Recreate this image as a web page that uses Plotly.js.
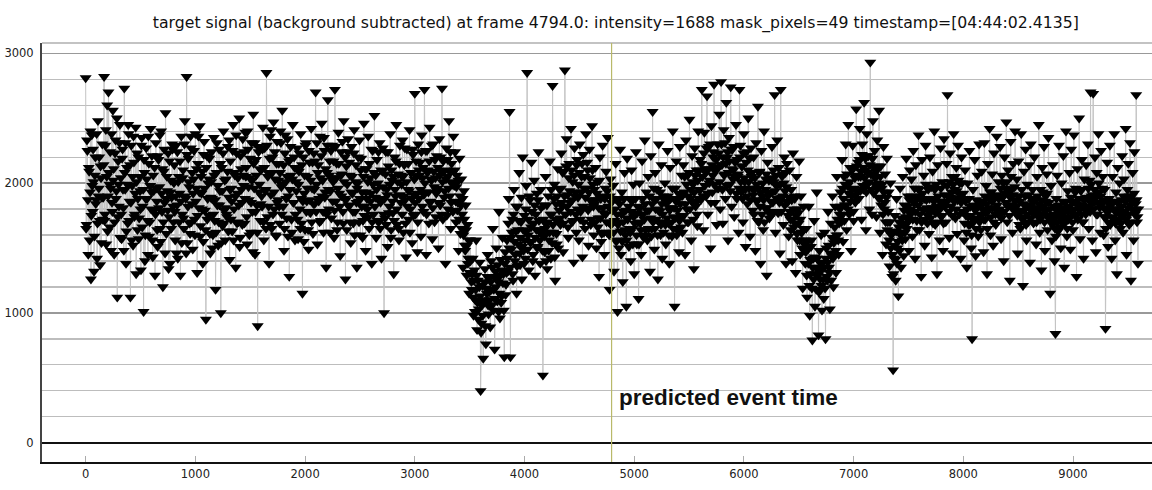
<!DOCTYPE html>
<html>
<head>
<meta charset="utf-8">
<script src="https://cdn.plot.ly/plotly-3.0.1.min.js"></script>
<style>
html,body{margin:0;padding:0;background:#fff;}
#chart{width:1152px;height:490px;}
</style>
</head>
<body>
<div id="chart"></div>
<script>
// Chart text
const titleText = "target signal (background subtracted) at frame 4794.0: intensity=1688 mask_pixels=49 timestamp=[04:44:02.4135]";
const eventLabel = "predicted event time";
const eventFrame = 4794;

// Tick labels
const xTicks = [0,1000,2000,3000,4000,5000,6000,7000,8000,9000];
const yTicks = [0,1000,2000,3000];

// Intensity samples.
// samplesA: frames 0, 8, 16, ...   samplesB: frames 4, 12, 20, ...
const frameStep = 8;
const samplesA = [
2810,1680,2250,1450,2090,1930,1260,2370,1780,2010,1590,2200,1870,1420,2480,1960,1710,2130,1540,2300,
1890,2820,1760,2410,2050,1630,2700,1990,2240,1480,1850,2560,2110,1700,2330,1940,1120,2170,1820,2450,
2040,1570,2260,1810,2730,1950,1380,2120,1690,2380,1860,1120,2290,1980,1520,2160,1760,2430,2010,1640,
2200,1730,1940,1330,2350,1820,1010,2080,1600,2270,1880,1450,2150,1700,2420,1930,1560,2060,1790,1290,
2310,1860,1510,2180,1970,1650,2400,1780,1200,2090,1850,2540,1610,1940,2230,1740,1380,2020,1890,2260,
1700,2140,1560,2290,1830,1420,2050,1920,1290,2360,1760,2100,1650,2480,1880,2820,1540,2190,1970,1610,
2270,1840,1490,2030,1720,2380,1960,1310,2150,1810,2440,1670,1920,2090,1550,2320,1790,950,2210,1880,
1750,2190,1460,2010,1880,1600,2350,1710,1180,2080,1830,1520,2260,1940,1000,2120,1670,2400,1790,1560,
2030,1740,2280,1890,1410,2170,1960,1630,2450,1800,2060,1350,2230,1920,1700,2500,1580,2110,1850,2340,
1980,1690,2390,2120,1530,2260,1870,2040,1620,2310,1780,2530,1960,1450,2180,1830,900,2240,1990,1710,
2100,1820,2430,1560,2270,1950,2850,1740,2080,1380,2360,1910,1650,2200,2470,1800,2030,1590,2320,1870,
2150,1690,2400,1970,2560,1820,1480,2230,2010,1730,2340,1900,1280,2180,2060,1620,2450,1850,2120,1760,
1940,2270,1570,2090,1800,2380,1690,1150,2200,1920,1640,2310,1860,2050,1490,2160,1770,2420,1960,1610,
2230,1840,2700,1990,1530,2140,1880,2360,1710,2460,2020,1620,2250,1930,1350,2080,2640,1800,2170,1940,
1730,2290,2010,1580,2720,1860,2150,1700,2390,1920,1440,2240,2070,1780,2480,1880,1260,2130,1990,2340,
1820,2060,1540,2280,1920,1690,2410,1780,2140,1350,2000,1860,2330,1600,2190,1930,1710,2460,1820,1480,
2110,1800,2360,1650,2040,1920,1380,2250,1760,2520,1890,1580,2180,2000,1700,2310,1850,1420,2090,1970,
1000,1730,2240,1950,1510,2130,1820,2380,1640,2020,1770,1300,2200,1900,2450,1680,2070,1560,2290,1850,
1990,2330,1620,2140,1870,1430,2260,1950,1720,2410,1800,2080,1540,2220,1910,2690,1760,2050,1470,2300,
1880,2160,1590,2370,2040,1780,2720,1930,1450,2250,2100,1690,2430,1860,2020,1570,2300,1970,2180,1740,
2210,1960,1500,2340,1830,2090,2730,1720,2180,1940,1380,2270,2050,1800,2480,1900,1650,2150,1990,2360,
1980,2240,1700,2060,1850,1480,2190,1610,2030,1760,1350,1940,1520,1830,1290,1680,1420,1150,1560,1310,
1180,1420,980,1330,1100,1560,870,1250,1030,1390,400,920,1210,650,1080,1340,760,1150,1450,990,
1270,890,1400,1060,1650,1180,720,1320,1500,1090,1240,1780,960,1410,1130,1580,1300,660,1470,1220,
1560,1320,1880,2550,660,1490,1720,1250,1950,1400,1630,1150,1820,1530,2080,1370,1700,1260,2200,1480,
1750,1420,1980,2850,1600,1330,1870,1540,2160,1690,1450,2020,1290,1760,1920,1510,2240,1640,1380,1810,
1600,520,1830,1470,2050,1680,1340,1900,1560,2170,1420,1760,2750,1620,1990,1250,1840,1530,2110,1700,
1950,1680,2230,1820,1470,2090,2870,1760,2340,1910,1580,2150,1850,2420,1700,2010,1390,2270,1930,1620,
2180,1890,1560,2300,1780,2050,1430,2220,1960,1650,2380,1810,2100,1520,2260,1870,1720,2440,1990,1600,
1840,2120,1500,2010,1730,1280,2200,1880,1610,2290,1770,1450,1960,2090,1620,2350,1700,1180,2030,1850,
1690,1980,1320,1800,2150,1560,1010,1870,1700,2260,1450,1930,1240,1780,2080,1600,1050,2190,1730,1510,
1880,1400,2100,1650,1990,1300,1760,2240,1530,1820,1110,2000,1690,1450,2170,1760,1580,2330,1640,1930,
1560,2050,1790,1320,2210,1650,2550,1880,1490,2080,1720,1950,1260,2300,1780,1600,2140,1420,1900,1700,
2000,1530,1850,2250,1690,1380,2120,1810,1590,2400,1740,1050,1960,2170,1640,1880,1470,2280,1750,2060,
1620,2140,1930,1450,2330,1800,2060,1700,2490,1880,1560,2210,1990,1340,2270,1820,2100,1670,2400,1950,
2180,1870,2720,2050,1640,2390,2110,1900,2670,1760,2280,2020,1500,2440,1930,2200,2760,1850,2120,1680,
2300,1960,2530,1800,2780,2140,1690,2410,2070,1880,2620,2200,1560,2350,1990,2740,1820,2260,2100,1740,
2160,2450,1880,2050,1620,2720,2290,1930,2130,1700,2380,2010,1510,2240,1840,2500,1960,1590,2270,2080,
1790,2200,1950,1480,2310,1860,2590,1700,2090,1380,2250,1900,1640,2400,1810,2030,1290,2160,1920,1730,
2040,1750,2280,1850,2010,2680,1620,1980,2330,1770,2120,1460,2720,1890,2070,1680,2200,1940,1380,2150,
1860,1590,2100,1720,1950,1400,2230,1660,1880,1310,2050,1560,1770,2170,1450,1900,1620,1190,1820,1530,
1380,1650,1120,1490,1820,980,1300,1560,790,1420,1710,1050,1350,1930,1180,830,1480,1260,1600,1020,
1390,1110,1620,800,1500,1250,1780,1350,1030,1690,1440,1900,1200,1570,1820,1310,2050,1600,1450,1760,
1930,1700,2180,1550,2050,1830,2300,1640,1980,2450,1760,2120,1480,1900,2290,1710,2060,1850,2570,1940,
2160,1880,2420,2050,1720,2300,1950,2620,2100,1640,2380,1990,2210,1800,2930,2070,1760,2480,1920,2250,
2040,1740,2330,1890,2560,1620,2130,1960,1450,2280,1800,2070,1530,2190,1700,1930,1360,2000,1600,1280,
560,1420,1750,1250,1880,1500,1130,1700,1960,1350,1620,2050,1440,1830,1570,2190,1690,1900,1480,2100,
1760,2030,1590,2250,1850,1420,2140,1710,1960,2370,1640,1900,1280,2180,1800,2060,1520,2290,1870,1690,
1950,1610,2200,1780,1430,2090,1880,2400,1680,1990,1300,2140,1820,1560,2270,1740,2010,1480,2340,1860,
1700,2150,2680,1900,1580,2230,1820,2050,1460,2380,1950,1730,2120,1610,2290,1880,2000,1420,2200,1780,
1920,1560,2100,1750,1350,2000,1680,2250,1820,1500,800,1950,1710,2180,1440,1870,2060,1590,2300,1760,
1640,2090,1850,1470,2310,1720,1980,1300,2150,1790,2420,1600,1930,2070,1520,2230,1810,1680,2360,1900,
2010,1750,2280,1570,2060,1890,1400,2200,1960,2470,1700,2100,1830,1250,2320,1950,1620,2150,1870,2400,
1780,2030,1460,2170,1900,1650,2380,1740,1210,2090,1830,2260,1560,1990,1700,2140,1390,2300,1810,1950,
1690,2200,1870,1530,2050,1760,2450,1620,1950,1330,2120,1800,2280,1480,1900,2070,1640,2350,1750,1150,
1980,1560,2140,1720,1400,840,1880,2060,1630,2290,1770,1500,2000,1690,2210,1350,1850,2400,1590,1940,
1720,2080,1490,2260,1850,1640,2370,1760,1960,1280,2110,1820,2500,1570,1940,2180,1700,1420,2030,1880,
2140,1800,2300,1650,2020,2700,1900,1560,2690,1850,2200,1470,2080,1760,2380,1930,1620,2250,1840,2050,
1600,1950,880,1740,2160,1510,1880,2290,1690,1420,2050,1800,2380,1560,1930,1300,2120,1710,2000,1650,
1870,2210,1620,2030,1760,2420,1450,1950,2150,1680,2310,1250,1900,2080,1560,2240,1800,2680,1700,1380
];
const samplesB = [
1650,2330,1870,2120,1560,2400,1750,1980,2260,1320,2060,1840,2380,1690,1900,2200,1370,2040,1890,1720,
2140,1710,2290,1530,2600,1900,2080,1660,1960,2380,1780,2020,1450,2230,1880,2500,1740,1990,2310,1580,
1760,2190,1950,1480,2080,2310,1630,1990,2450,1710,2140,1850,1560,2050,2360,1740,1920,1300,2230,1880,
1570,2050,1800,2290,1660,1950,2180,1400,1880,2030,1710,2360,1590,1980,1800,2210,1430,1940,2120,1760,
1960,1640,2210,1810,2370,1550,1920,2110,1700,2260,1460,1880,2050,1790,1340,2170,1930,1650,2300,1820,
2000,1780,1900,1460,2240,2010,1700,2170,1860,1540,2040,1730,2300,1900,1460,2220,1820,2010,1690,2360,
1700,2080,1920,2250,1600,1860,2110,1750,2360,1930,1590,2050,1800,1380,2220,1960,1640,2120,1720,2000,
2030,1610,1890,2240,1500,1760,2060,1870,1620,2310,1980,1700,1830,2150,1540,1940,2230,1690,2020,1810,
1760,2090,1630,2330,1950,1720,1860,2250,1560,2080,1900,2370,1690,2040,1830,1510,2210,1950,1680,2060,
2240,1880,2050,1740,2400,1970,1600,2190,1850,2020,1470,2150,2310,1780,2060,1620,2280,1930,2110,1840,
1900,2260,1700,2120,1940,1650,2290,2050,1820,2190,1680,2410,2080,1760,1930,2240,1600,2150,1850,2020,
1820,2080,2310,1760,1990,2140,1650,2370,1880,2050,1590,2170,1950,2280,1720,2030,1850,2200,1560,2010,
2110,1720,1990,2230,1650,1880,2140,1860,1550,2060,2290,1780,1960,1640,2250,1870,2020,1700,2160,1840,
1950,2170,1780,2310,2080,1860,1700,2040,2210,1900,1780,2350,1890,2110,1760,2290,1950,2060,1620,2250,
2040,1860,2170,1790,2280,2040,1640,1960,2150,1820,2060,1900,2320,1690,2010,2200,1870,1640,2240,1830,
2160,1700,1930,2050,1780,2230,1600,2010,1850,1960,2200,1700,1880,2100,1820,1580,2050,1750,2110,1930,
1880,2010,1740,2150,1860,2260,1700,1990,2080,1820,2060,1950,1710,2240,1880,1650,2100,1870,2270,1760,
1880,2070,1680,1910,2240,1770,1990,1580,2100,1860,2050,1710,1950,2170,1800,2010,1650,2150,1910,2060,
1760,2050,1900,2270,1690,2010,1820,2150,1940,1620,2080,1880,2260,1750,2030,1850,2170,1920,1700,2100,
2060,1950,2240,1820,2120,1910,2000,2250,1760,2080,1930,2170,1850,2030,2290,1810,2090,1700,2040,1920,
1940,2120,1850,2060,2200,1760,2010,2170,1890,2100,2030,1750,2180,1960,2090,2240,1850,2010,1780,2090,
2100,1860,1970,1790,2020,1720,1900,1830,1650,1880,1600,1720,1480,1640,1520,1380,1560,1310,1400,1240,
1300,1120,1250,1010,1180,1290,1080,950,1200,1130,850,1060,980,1100,1240,900,1190,1280,1060,1160,
1100,1240,1180,1350,1020,1280,1110,1200,1260,1370,1010,1150,1290,1080,1330,1230,1020,1380,1140,1310,
1420,1690,1500,1350,1580,1620,1300,1760,1550,1450,1820,1360,1640,1710,1460,1580,1890,1510,1640,1380,
1560,1800,1630,1490,1720,1900,1550,1660,1780,1400,1690,1830,1580,1640,1500,1870,1710,1560,1950,1620,
1480,1720,1590,1650,1400,1830,1700,1480,1620,1760,1950,1540,1680,1880,1430,1720,1610,1900,1500,1790,
1730,1960,1850,2080,1690,1900,1760,2130,1820,1660,2040,1940,1780,2100,1870,1710,2060,1900,1760,2140,
1800,1990,2080,1720,1930,2150,1820,1700,2050,1890,1960,2160,1790,1930,2040,1680,1860,2100,1820,1950,
1700,1870,1920,1660,1810,2020,1730,1550,1900,1810,1620,1880,1760,1700,1940,1820,1600,1900,1680,1790,
1790,1620,1710,1880,1550,1760,1680,1500,1840,1630,1760,1550,1700,1880,1640,1790,1560,1720,1820,1650,
1620,1780,1860,1530,1740,1690,1880,1600,1770,1700,1530,1810,1640,1760,1880,1590,1720,1840,1600,1790,
1790,1650,1900,1730,1590,1840,1700,1960,1650,1800,1880,1600,1790,1700,1930,1680,1840,1760,1620,1870,
1680,1840,1730,1900,1600,1790,1880,1700,1960,1650,1810,1730,1860,1600,1790,1920,1710,1840,1660,1900,
1910,1750,2050,1840,1990,1700,1900,2080,1800,1950,1860,2010,1720,1930,2060,1850,1760,2020,1880,2100,
1950,2150,2050,1900,2230,1980,2080,2270,1920,2110,2000,2300,1850,2140,2060,2240,1990,2090,2180,1960,
2120,2230,2010,2140,2300,1950,2200,2060,2310,2150,1980,2240,2080,2170,1940,2260,2110,2030,2280,2050,
2050,1920,2180,2070,1960,2200,2010,2130,1880,2230,2040,1950,2160,1900,2100,2010,2190,1870,2050,1960,
1910,1760,2040,1870,1990,1710,1960,2080,1820,1930,1760,2000,1870,1700,1950,2070,1810,1900,2020,1780,
1860,2020,1930,2100,1780,1940,2060,1880,1990,2120,1850,1990,1780,2050,1900,2000,1830,2080,1970,1850,
1750,1890,1780,1640,1870,1720,1800,1900,1690,1750,1610,1800,1690,1560,1720,1620,1500,1650,1480,1560,
1470,1290,1550,1380,1210,1410,1510,1190,1350,1260,1430,1300,1180,1420,1290,1160,1320,1380,1210,1340,
1260,1350,1190,1420,1280,1390,1520,1310,1460,1250,1580,1420,1540,1660,1480,1600,1720,1560,1690,1800,
1820,1750,1960,1880,1710,1990,1830,2070,1800,1920,2010,1860,1950,2100,1780,1960,2040,1910,2130,1880,
2050,2180,1940,2090,2220,1980,2120,2040,2190,1930,2080,2210,2010,2140,2070,1950,2190,2060,2120,1990,
2090,1960,2130,2000,1880,2050,1830,1990,1760,1930,1850,1700,1890,1640,1780,1560,1700,1500,1620,1450,
1300,1520,1410,1630,1380,1550,1660,1480,1600,1730,1560,1680,1790,1620,1740,1650,1820,1720,1870,1780,
1800,1900,1720,1850,1960,1780,1880,1640,1830,1950,1760,1870,1700,1920,1790,1880,1720,1990,1810,1750,
1780,1880,1730,1970,1810,1690,1860,1950,1770,1820,1700,1900,1790,1860,1960,1750,1830,1690,1910,1820,
1850,1980,1900,1780,2010,1890,1930,1750,1990,1860,2050,1800,1940,1870,2020,1760,1910,1850,2000,1880,
1780,1690,1860,1620,1800,1740,1880,1680,1750,1600,1690,1830,1720,1790,1650,1810,1730,1860,1700,1820,
1750,1860,1800,1720,1900,1770,1840,1650,1890,1800,1930,1740,1860,1810,1700,1880,1760,1910,1830,1780,
1880,1800,1960,1730,1900,2000,1780,1920,1850,2010,1820,1940,1750,1890,2050,1830,1910,1790,1970,1860,
1820,1750,1900,1680,1860,1780,1950,1720,1840,1790,1900,1680,1830,1760,1910,1810,1730,1880,1780,1850,
1760,1880,1810,1700,1900,1790,1840,1720,1870,1760,1930,1820,1700,1860,1790,1920,1740,1850,1800,1710,
1740,1680,1820,1760,1650,1590,1790,1700,1830,1740,1660,1800,1710,1860,1770,1690,1810,1730,1650,1780,
1820,1740,1890,1780,1700,1860,1800,1930,1750,1840,1720,1880,1790,1950,1760,1830,1700,1870,1800,1760,
1890,1820,1960,1870,1780,1990,1840,1910,1800,1950,1880,1760,1930,1850,2000,1810,1900,1840,1960,1870,
1740,1810,1650,1780,1850,1700,1790,1680,1830,1740,1860,1720,1800,1690,1770,1850,1710,1800,1760,1690,
1820,1750,1900,1780,1860,1720,1880,1810,1760,1900,1830,1700,1850,1790,1920,1760,1840,1870,1740,1800
];

// Interleave the two sample sets into one time-ordered series
const frames = [];
const intensity = [];
samplesA.forEach((v, i) => {
  frames.push(i * frameStep); intensity.push(v);
  if (i < samplesB.length) { frames.push(i * frameStep + frameStep / 2); intensity.push(samplesB[i]); }
});

const trace = {
  type: 'scatter',
  mode: 'lines+markers',
  x: frames,
  y: intensity,
  line: {color: '#c4c4c4', width: 1},
  marker: {symbol: 'triangle-down', size: 10.5, color: '#000', line: {width: 0}},
  hoverinfo: 'x+y',
  showlegend: false
};

const layout = {
  width: 1152,
  height: 490,
  margin: {l: 42, r: 0, t: 43, b: 28, pad: 0},
  paper_bgcolor: '#fff',
  plot_bgcolor: '#fff',
  showlegend: false,
  title: {
    text: titleText,
    font: {family: 'DejaVu Sans', size: 15.7, color: '#111'},
    x: 0.517, xanchor: 'center', xref: 'paper',
    y: 0.955, yanchor: 'middle', yref: 'container'
  },
  xaxis: {
    range: [-398, 9720],
    tickvals: xTicks,
    ticktext: xTicks.map(String),
    ticks: 'inside', ticklen: 6, tickcolor: '#aaa', tickwidth: 1,
    showgrid: false, zeroline: false,
    showline: true, linecolor: '#111', linewidth: 2,
    tickfont: {family: 'DejaVu Sans', size: 11.5, color: '#222'},
    fixedrange: true
  },
  yaxis: {
    range: [-148, 3079],
    tickvals: yTicks,
    ticktext: yTicks.map(String),
    ticks: '',
    showgrid: true, gridcolor: '#999', gridwidth: 1.5,
    minor: {dtick: 200, showgrid: true, gridcolor: '#bdbdbd', gridwidth: 1.2, ticks: ''},
    zeroline: true, zerolinecolor: '#111', zerolinewidth: 1.5,
    showline: true, linecolor: '#444', linewidth: 2,
    tickfont: {family: 'DejaVu Sans', size: 11.5, color: '#222'},
    ticklabelstandoff: 4,
    fixedrange: true
  },
  shapes: [
    {type: 'line', xref: 'paper', yref: 'y', x0: 0, x1: 1, y0: yTicks[2], y1: yTicks[2],
     line: {color: '#111', width: 1.5}, layer: 'below'},
    {type: 'line', xref: 'paper', yref: 'paper', x0: 0, x1: 1, y0: 1, y1: 1,
     line: {color: '#888', width: 1.2}, layer: 'below'},
    {type: 'line', xref: 'x', yref: 'paper', x0: eventFrame, x1: eventFrame, y0: 0, y1: 1,
     line: {color: '#b9b96a', width: 1.2}, layer: 'above'}
  ],
  annotations: [
    {text: '<b>' + eventLabel + '</b>', xref: 'x', yref: 'y', x: eventFrame + 45, y: 346,
     xanchor: 'left', yanchor: 'middle', showarrow: false,
     font: {family: 'Liberation Sans, Arial', size: 22.5, color: '#111'}}
  ]
};

Plotly.newPlot('chart', [trace], layout, {staticPlot: true, displayModeBar: false});
</script>
</body>
</html>
